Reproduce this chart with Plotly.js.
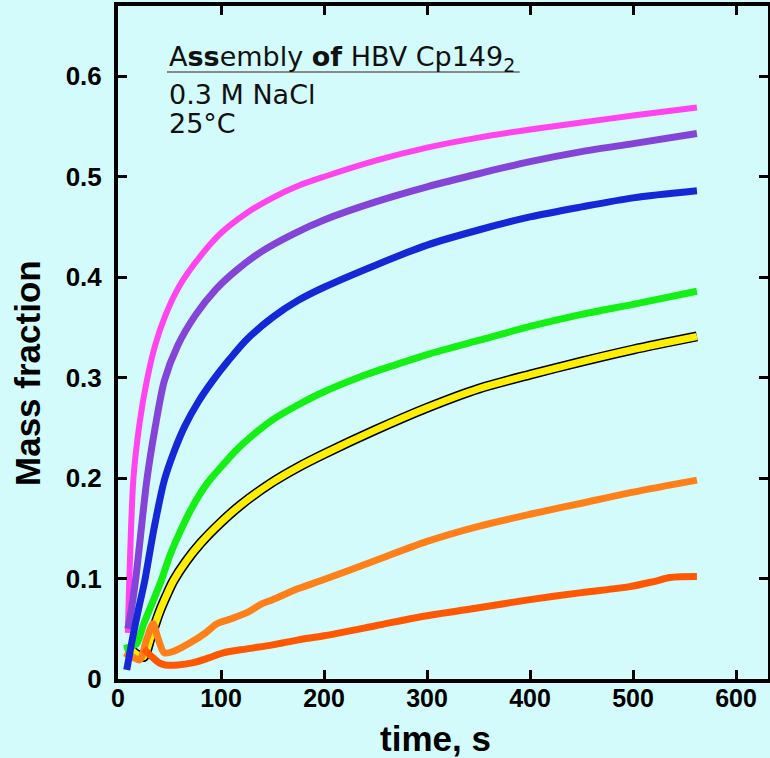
<!DOCTYPE html>
<html>
<head>
<meta charset="utf-8">
<script src="https://cdn.plot.ly/plotly-3.0.1.min.js"></script>
<style>html,body{margin:0;padding:0;background:#d3fbfb;}#chart{width:770px;height:758px;}</style>
</head>
<body>
<div id="chart"></div>
<script>
// ---- data ----
const magentaT = [9.5, 11, 15, 21, 28, 36, 46, 60, 80, 100, 125, 150, 175, 200, 250, 300, 350, 400, 450, 500, 562];
const magentaV = [0.046, 0.1, 0.2, 0.255, 0.297, 0.332, 0.362, 0.392, 0.421, 0.444, 0.464, 0.479, 0.491, 0.5, 0.516, 0.529, 0.539, 0.547, 0.554, 0.561, 0.569];

const purpleT = [9.5, 11, 17, 28, 36, 45, 58, 75, 95, 115, 140, 170, 200, 250, 300, 350, 400, 450, 500, 562];
const purpleV = [0.05, 0.057, 0.098, 0.198, 0.25, 0.297, 0.332, 0.362, 0.388, 0.407, 0.426, 0.443, 0.457, 0.475, 0.49, 0.503, 0.515, 0.525, 0.533, 0.543];

const blueT = [8.5, 14, 20, 26, 35, 45, 55, 65, 78, 92, 108, 125, 150, 175, 200, 250, 300, 350, 400, 450, 500, 562];
const blueV = [0.009, 0.04, 0.07, 0.098, 0.15, 0.198, 0.228, 0.252, 0.276, 0.297, 0.318, 0.338, 0.36, 0.377, 0.39, 0.412, 0.432, 0.447, 0.46, 0.47, 0.479, 0.486];

const greenT = [6, 12, 18, 25, 33, 42, 50, 60, 72, 86, 100, 115, 130, 150, 175, 200, 233, 270, 300, 350, 400, 450, 500, 562];
const greenV = [0.03, 0.032, 0.035, 0.055, 0.075, 0.098, 0.122, 0.146, 0.171, 0.194, 0.211, 0.228, 0.242, 0.258, 0.273, 0.286, 0.3, 0.313, 0.323, 0.337, 0.351, 0.363, 0.373, 0.386];

const yellowT = [13, 19, 25, 32, 40, 47, 54, 66, 80, 100, 120, 150, 175, 200, 250, 300, 350, 400, 450, 500, 562];
const yellowV = [0.029, 0.024, 0.022, 0.042, 0.066, 0.083, 0.098, 0.117, 0.135, 0.156, 0.174, 0.196, 0.211, 0.224, 0.248, 0.27, 0.289, 0.303, 0.316, 0.328, 0.341];

const orangeT = [6.5, 14, 21, 28, 34, 39, 45, 55, 70, 85, 96, 110, 125, 140, 150, 175, 200, 250, 300, 350, 400, 450, 500, 562];
const orangeV = [0.026, 0.022, 0.019, 0.04, 0.055, 0.04, 0.026, 0.028, 0.036, 0.046, 0.055, 0.06, 0.066, 0.075, 0.079, 0.09, 0.099, 0.118, 0.137, 0.152, 0.164, 0.175, 0.186, 0.198];

const redT = [25, 33, 40, 46, 58, 72, 88, 102, 125, 150, 175, 200, 250, 294, 350, 400, 450, 497, 520, 536, 562];
const redV = [0.03, 0.022, 0.016, 0.014, 0.014, 0.016, 0.021, 0.026, 0.03, 0.034, 0.039, 0.043, 0.053, 0.062, 0.071, 0.079, 0.086, 0.092, 0.097, 0.101, 0.102];

const xTickVals = [0, 100, 200, 300, 400, 500, 600];
const xTickText = ['0', '100', '200', '300', '400', '500', '600'];
const yTickVals = [0, 0.1, 0.2, 0.3, 0.4, 0.5, 0.6];
const yTickText = ['0', '0.1', '0.2', '0.3', '0.4', '0.5', '0.6'];

// ---- styles ----
const BG = '#d3fbfb';
const SANS = 'Liberation Sans, Arial, Helvetica, sans-serif';
const DEJA = 'DejaVu Sans, Verdana, sans-serif';

function line(x, y, color, width) {
  return {x: x, y: y, type: 'scatter', mode: 'lines', hoverinfo: 'skip', showlegend: false,
          line: {color: color, width: width, shape: 'spline', smoothing: 0.8}};
}

const traces = [
  line(yellowT, yellowV, '#000000', 10),
  line(yellowT, yellowV, '#ffee00', 7),
  line(orangeT, orangeV, '#ff8018', 7),
  line(redT, redV, '#ff5800', 7),
  line(greenT, greenV, '#14f014', 7),
  line(magentaT, magentaV, '#ff44f0', 6),
  line(purpleT, purpleV, '#8444d8', 7),
  line(blueT, blueV, '#1428d8', 7)
];

const axisCommon = {
  showline: true, linecolor: '#000', linewidth: 4, mirror: 'ticks',
  ticks: 'inside', ticklen: 9, tickwidth: 3, tickcolor: '#000',
  showgrid: false, zeroline: false, fixedrange: true
};

const layout = {
  width: 770, height: 758,
  margin: {l: 118, r: 2, t: 6, b: 79},
  paper_bgcolor: BG, plot_bgcolor: BG,
  xaxis: Object.assign({}, axisCommon, {
    range: [0, 631], tickmode: 'array', tickvals: xTickVals, ticktext: xTickText,
    tickfont: {family: SANS, size: 25, color: '#000', weight: 700},
    ticklabelstandoff: -6
  }),
  yaxis: Object.assign({}, axisCommon, {
    range: [0, 0.67], tickmode: 'array', tickvals: yTickVals, ticktext: yTickText,
    tickfont: {family: SANS, size: 26, color: '#000', weight: 700},
    ticklabelstandoff: 7
  }),
  shapes: [
    {type: 'line', xref: 'paper', yref: 'paper', x0: 0.0754, x1: 0.618, y0: 0.902, y1: 0.902,
     line: {color: '#8a8a8a', width: 2}}
  ],
  annotations: [
    {xref: 'paper', yref: 'paper', x: 0.0754, y: 0.9227, xanchor: 'left', yanchor: 'middle', showarrow: false,
     text: 'A<b>ss</b>embly <b>of</b> HBV Cp149<sub>2</sub>', font: {family: DEJA, size: 27, color: '#111'}},
    {xref: 'paper', yref: 'paper', x: 0.0754, y: 0.8678, xanchor: 'left', yanchor: 'middle', showarrow: false,
     text: '0.3 M NaCl', font: {family: DEJA, size: 27, color: '#111'}},
    {xref: 'paper', yref: 'paper', x: 0.0754, y: 0.826, xanchor: 'left', yanchor: 'middle', showarrow: false,
     text: '25°C', font: {family: DEJA, size: 27, color: '#111'}},
    {xref: 'paper', yref: 'paper', x: -0.1385, y: 0.4547, xanchor: 'center', yanchor: 'middle', showarrow: false,
     textangle: -90, text: 'Mass fraction', font: {family: SANS, size: 35, color: '#000', weight: 700}},
    {xref: 'paper', yref: 'paper', x: 0.489, y: -0.0877, xanchor: 'center', yanchor: 'middle', showarrow: false,
     text: 'time, s', font: {family: SANS, size: 35, color: '#000', weight: 700}}
  ]
};

Plotly.newPlot('chart', traces, layout, {staticPlot: true, displayModeBar: false});
</script>
</body>
</html>
